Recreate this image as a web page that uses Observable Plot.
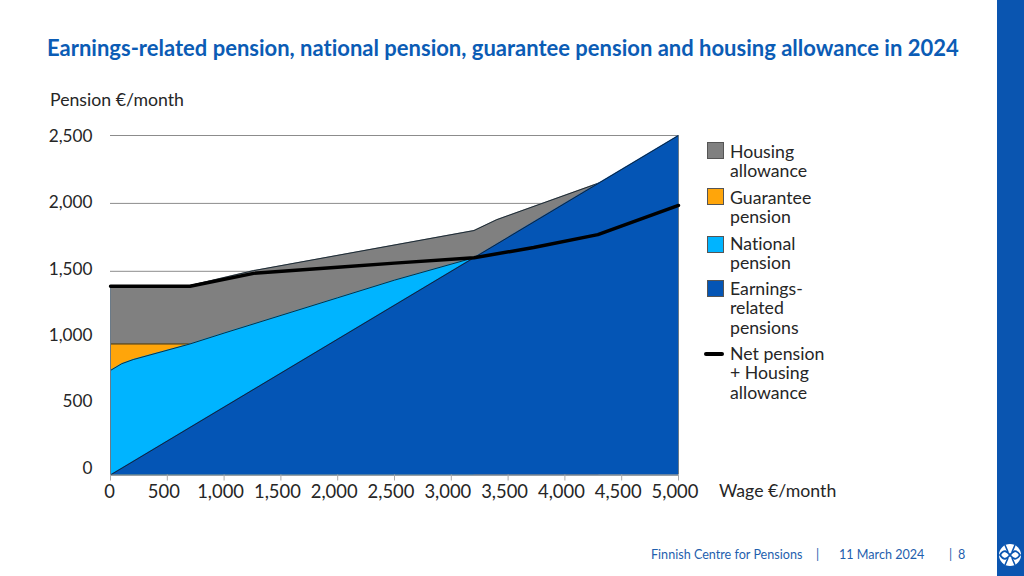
<!DOCTYPE html>
<html>
<head>
<meta charset="utf-8">
<script src="https://cdn.jsdelivr.net/npm/d3@7"></script>
<script src="https://cdn.jsdelivr.net/npm/@observablehq/plot@0.6"></script>
<style>
html,body{margin:0;padding:0;background:#fff;width:1024px;height:576px;overflow:hidden;font-family:Lato,"Open Sans",sans-serif;font-variant-ligatures:none;}
#page{position:relative;width:1024px;height:576px;}
.abs{position:absolute;white-space:nowrap;}
#title{left:47px;top:34px;font-size:22px;font-weight:700;color:#0b5cb5;line-height:27px;}
.lab{font-size:17.7px;color:#262626;line-height:20px;}
#chart{position:absolute;left:0;top:120px;}
.lg{position:absolute;left:730px;font-size:17.7px;line-height:19.4px;color:#262626;white-space:nowrap;}
.sw{position:absolute;left:707px;width:15px;height:15px;border:1px solid #555;}
#ln{position:absolute;left:704px;top:352px;width:20px;height:3.5px;background:#000;border-radius:2px;}
#bar{position:absolute;left:997px;top:0;width:27px;height:576px;background:#0a55b0;}
.ft{position:absolute;top:547px;font-size:12.6px;line-height:16px;color:#1f5fae;white-space:nowrap;}
#logo{position:absolute;left:998px;top:543px;}
</style>
</head>
<body>
<div id="page">
<div id="title" class="abs">Earnings-related pension, national pension, guarantee pension and housing allowance in 2024</div>
<div class="abs lab" style="left:50px;top:90px">Pension €/month</div>
<div class="abs lab" style="left:719px;top:481px">Wage €/month</div>
<div id="chart"></div>
<div id="legend"></div>
<div id="ln"></div>
<div id="bar"></div>
<svg id="logo" width="24" height="24" viewBox="0 0 24 24">
<circle cx="12" cy="12" r="11" fill="#fff"/>
<path d="M2 12 C6 6,9 8,12 12 C15 16,18 18,22 12 C18 6,15 8,12 12 C9 16,6 18,2 12Z" fill="none" stroke="#0a55b0" stroke-width="1.8"/>
<path d="M7 2 L10 9 M17 2 L14 9 M7 22 L10 15 M17 22 L14 15" stroke="#0a55b0" stroke-width="1.6"/>
</svg>
<div class="ft" style="left:651px">Finnish Centre for Pensions</div>
<div class="ft" style="left:816px">|</div>
<div class="ft" style="left:839px">11 March 2024</div>
<div class="ft" style="left:949px">|</div>
<div class="ft" style="left:958px">8</div>
</div>
<script>
const xTicks = [0,500,1000,1500,2000,2500,3000,3500,4000,4500,5000];
const yTicks = [0,500,1000,1500,2000,2500];

const housingWage = [0,700,1260,3200,3400,4300];
const housingTop  = [1395,1395,1505,1800,1880,2150];

const guaranteeWage = [0,700];
const guaranteeTop  = [965,965];

const nationalWage = [0,100,200,700,1000,2000,2500,3200];
const nationalTop  = [770,820,850,965,1045,1305,1435,1600];

const earningsWage = [0,5000];
const earningsTop  = [0,2500];

const netWage = [0,700,1260,2000,2500,3200,3725,4290,5000];
const netTop  = [1390,1390,1485,1530,1560,1600,1675,1770,1985];

const colors = {housing:"#808080",guarantee:"#ffa50a",national:"#00b4ff",earnings:"#0455b5"};
const legendItems = [
  {label:["Housing","allowance"],color:colors.housing,sw:142,txt:142},
  {label:["Guarantee","pension"],color:colors.guarantee,sw:188,txt:188},
  {label:["National","pension"],color:colors.national,sw:236,txt:234},
  {label:["Earnings-","related","pensions"],color:colors.earnings,sw:280,txt:279},
  {label:["Net pension","+ Housing","allowance"],color:null,txt:344}
];

const tbl = (w,v)=>w.map((x,i)=>({x,y:v[i]}));
const layer = (w,v,c)=>[
  Plot.areaY(tbl(w,v),{x:"x",y:"y",fill:c}),
  Plot.lineY(tbl(w,v),{x:"x",y:"y",stroke:"#10202c",strokeWidth:0.9})
];

const plot = Plot.plot({
  width:700,height:385,
  marginLeft:110,marginRight:22,marginTop:15,marginBottom:30.5,
  style:{fontFamily:"Lato,'Open Sans',sans-serif",background:"transparent",overflow:"visible",fontVariantLigatures:"none"},
  x:{domain:[0,5000]},
  y:{domain:[0,2500]},
  marks:[
    Plot.ruleY(yTicks,{stroke:"#8c8c8c",strokeWidth:1}),
    ...layer(housingWage,housingTop,colors.housing),
    ...layer(guaranteeWage,guaranteeTop,colors.guarantee),
    ...layer(nationalWage,nationalTop,colors.national),
    ...layer(earningsWage,earningsTop,colors.earnings),
    Plot.ruleX([0],{y1:0,y2:1390,stroke:"#6a7a88",strokeWidth:1}),
    Plot.ruleX([5000],{y1:0,y2:2500,stroke:"#6a7a88",strokeWidth:1}),
    Plot.ruleY([0],{stroke:"#6a7a88",strokeWidth:1}),
    Plot.lineY(tbl(netWage,netTop),{x:"x",y:"y",stroke:"#000",strokeWidth:3.4}),
    Plot.axisX(xTicks,{tickSize:6,stroke:"#aaaaaa",text:null,label:null}),
    ...xTicks.map(t=>Plot.axisX([t],{tickSize:0,tickPadding:10,fontSize:18.4,fill:"#262626",label:null,tickFormat:d3.format(","),dx:t===0?-1:-3.5})),
    ...yTicks.map(t=>Plot.axisY([t],{tickSize:0,tickPadding:18,fontSize:17.2,fill:"#262626",label:null,tickFormat:d3.format(","),dy:1-8*(1-t/2500)}))
  ]
});
document.getElementById("chart").appendChild(plot);

const lg = document.getElementById("legend");
for(const it of legendItems){
  if(it.color){
    const s=document.createElement("div");
    s.className="sw";s.style.top=it.sw+"px";s.style.background=it.color;
    lg.appendChild(s);
  }
  const t=document.createElement("div");
  t.className="lg";t.style.top=it.txt+"px";
  t.innerHTML=it.label.join("<br>");
  lg.appendChild(t);
}
</script>
</body>
</html>
